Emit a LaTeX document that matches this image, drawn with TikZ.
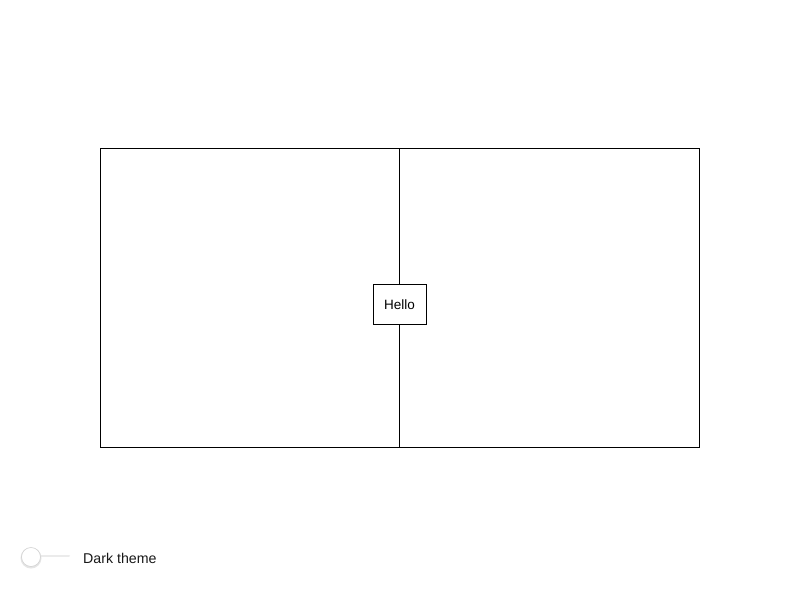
\documentclass[tikz,border=0pt]{standalone}
\usepackage{fontspec}
\setmainfont{Liberation Sans}
\begin{document}
\begin{tikzpicture}[x=1pt,y=-1pt,
  frame/.style={draw=black,line width=0.8pt},
  hellobox/.style={draw=black,fill=white,line width=0.8pt,minimum width=53pt,minimum height=40pt,inner sep=0pt,font=\fontsize{13.5}{15}\selectfont},
  label/.style={anchor=west,inner sep=0pt,font=\fontsize{14.2}{16}\selectfont,text=black!90}]
\useasboundingbox (0,0) rectangle (800,600);
\fill[white] (0,0) rectangle (800,600);
\draw[frame] (100.5,148.5) rectangle (699.5,447);
\coordinate (top) at (399.5,148.5);
\coordinate (bot) at (399.5,447);
\draw[frame] (top) -- (bot);
\node[hellobox] (hello) at (399.5,304.5) {Hello};
% toggle
\coordinate (trackL) at (22,556);
\coordinate (trackR) at (69,556);
\draw[line width=2pt,black!8,line cap=round] (trackL) -- (trackR);
\fill[black!10] (31,558) circle (10.5);
\node[circle,draw=black!18,fill=white,minimum size=19pt,inner sep=0pt,line width=0.6pt] (knob) at (31,557) {};
\node[label] (dark) at (83,558) {Dark theme};
\end{tikzpicture}
\end{document}
